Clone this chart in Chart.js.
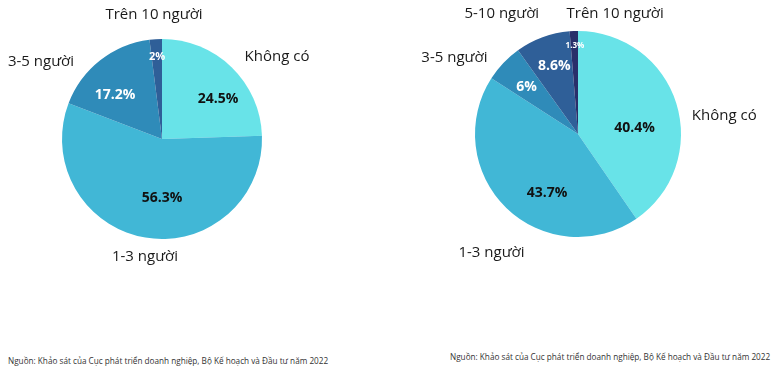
<!DOCTYPE html>
<html lang="vi">
<head>
<meta charset="UTF-8">
<title>Quy mô lao động</title>
<script src="https://cdn.jsdelivr.net/npm/chart.js"></script>
<style>
  html, body { margin: 0; padding: 0; background: #fff; }
  body { width: 773px; height: 370px; position: relative; overflow: hidden; font-family: "Open Sans", sans-serif; }
  .box { position: absolute; top: 0; height: 300px; }
  #leftBox { left: 0; width: 330px; }
  #rightBox { left: 400px; width: 373px; }
  .note { position: absolute; font-size: 8.2px; color: #333; white-space: nowrap; }
</style>
</head>
<body>
<div class="box" id="leftBox"><canvas id="leftChart"></canvas></div>
<div class="box" id="rightBox"><canvas id="rightChart"></canvas></div>
<div class="note" style="left:8px; top:355px;">Nguồn: Khảo sát của Cục phát triển doanh nghiệp, Bộ Kế hoạch và Đầu tư năm 2022</div>
<div class="note" style="left:450px; top:351px;">Nguồn: Khảo sát của Cục phát triển doanh nghiệp, Bộ Kế hoạch và Đầu tư năm 2022</div>

<script>
// left chart data
const leftLabels = ['Không có', '1-3 người', '3-5 người', 'Trên 10 người'];
const leftValues = [24.5, 56.3, 17.2, 2];

// right chart data
const rightLabels = ['Không có', '1-3 người', '3-5 người', '5-10 người', 'Trên 10 người'];
const rightValues = [40.4, 43.7, 6, 8.6, 1.3];

const leftColors = ['#68e3e8', '#41b7d6', '#2f8bb9', '#2f5f98'];
const rightColors = ['#68e3e8', '#41b7d6', '#2f8bb9', '#2f5f98', '#292f6a'];

// label placement, offsets from pie centre in units of radius
const leftLayout = {
    outer: [[1.15, -0.82], [-0.17, 1.18], [-1.21, -0.77], [-0.08, -1.24]],
    inner: [[0.56, -0.40], [0.0, 0.59], [-0.47, -0.44], [-0.05, -0.82]],
    innerColor: ['#111', '#111', '#fff', '#fff'],
    innerSize: [14, 14, 14, 11]
};
const rightLayout = {
    outer: [[1.42, -0.18], [-0.84, 1.15], [-1.20, -0.74], [-0.74, -1.17], [0.36, -1.17]],
    inner: [[0.55, -0.06], [-0.30, 0.57], [-0.50, -0.46], [-0.23, -0.66], [-0.03, -0.86]],
    innerColor: ['#111', '#111', '#fff', '#fff', '#fff'],
    innerSize: [14, 14, 14, 14, 8]
};

const pieLabels = {
    id: 'pieLabels',
    afterDraw(chart, args, opts) {
        const ctx = chart.ctx;
        const arc = chart.getDatasetMeta(0).data[0];
        const cx = arc.x, cy = arc.y, r = arc.outerRadius;
        const labels = chart.data.labels;
        const values = chart.data.datasets[0].data;
        const lay = opts.layout;
        ctx.save();
        ctx.textAlign = 'center';
        ctx.textBaseline = 'middle';
        labels.forEach((lab, i) => {
            ctx.font = '15px "Open Sans", sans-serif';
            ctx.fillStyle = '#1a1a1a';
            ctx.fillText(lab, cx + lay.outer[i][0] * r, cy + lay.outer[i][1] * r);
            ctx.font = 'bold ' + lay.innerSize[i] + 'px "Open Sans", sans-serif';
            ctx.fillStyle = lay.innerColor[i];
            ctx.fillText(values[i] + '%', cx + lay.inner[i][0] * r, cy + lay.inner[i][1] * r);
        });
        ctx.restore();
    }
};

function makePie(id, labels, values, colors, padding, layout) {
    return new Chart(document.getElementById(id), {
        type: 'pie',
        data: {
            labels: labels,
            datasets: [{
                data: values,
                backgroundColor: colors,
                borderWidth: 0
            }]
        },
        options: {
            responsive: true,
            maintainAspectRatio: false,
            animation: false,
            layout: { padding: padding },
            plugins: {
                legend: { display: false },
                tooltip: { enabled: false },
                pieLabels: { layout: layout }
            }
        },
        plugins: [pieLabels]
    });
}

makePie('leftChart', leftLabels, leftValues, leftColors,
    { left: 62, right: 68, top: 39, bottom: 61 }, leftLayout);
makePie('rightChart', rightLabels, rightValues, rightColors,
    { left: 75, right: 92, top: 31, bottom: 63 }, rightLayout);
</script>
</body>
</html>
